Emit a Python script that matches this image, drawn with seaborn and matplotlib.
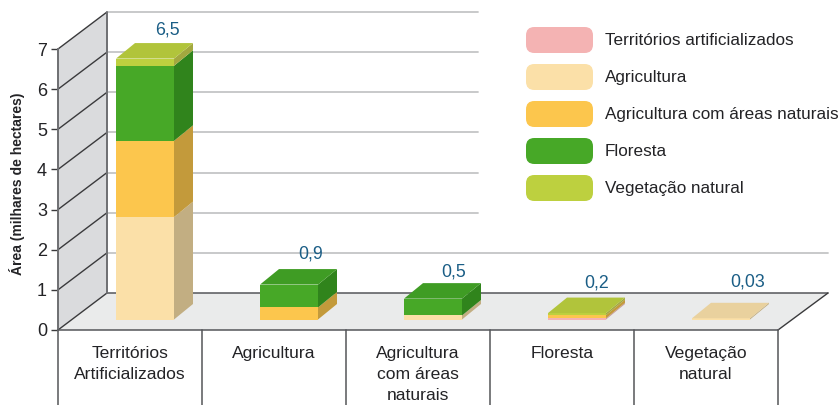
import matplotlib
matplotlib.use("Agg")
import matplotlib.pyplot as plt
from matplotlib.patches import FancyBboxPatch, Patch, Polygon
from matplotlib.legend_handler import HandlerPatch
from matplotlib.transforms import ScaledTranslation
import seaborn as sns
import pandas as pd
import numpy as np

categories = ["Territórios\nArtificializados", "Agricultura", "Agricultura\ncom áreas\nnaturais", "Floresta", "Vegetação\nnatural"]
series_names = ["Territórios artificializados", "Agricultura", "Agricultura com áreas naturais", "Floresta", "Vegetação natural"]
territorios = [0, 0, 0, 0.03, 0]
agricultura = [2.55, 0, 0.10, 0, 0.03]
agric_naturais = [1.90, 0.30, 0, 0.08, 0]
floresta_vals = [1.87, 0.57, 0.42, 0, 0]
vegetacao = [0.18, 0, 0, 0.05, 0]
total_labels = ["6,5", "0,9", "0,5", "0,2", "0,03"]
label_lift_px = [16, 18, 14, 17, 23]
label_shift_px = [13, 12, 11.5, 10, 17]

front = ["#F4B3B3", "#FBE0A8", "#FCC64D", "#47A827", "#BDD03F"]
side = ["#C79A9A", "#C2AE82", "#C39A3B", "#30841C", "#A3A83F"]
top = ["#E0A5A5", "#E9D19E", "#E8B548", "#3F9C24", "#B1C43B"]

sns.set_theme(style="white")
plt.rcParams['font.family'] = ['Liberation Sans', 'DejaVu Sans']

W, H = 840, 405
FS = 12.6
LFS = 12.35
fig = plt.figure(figsize=(W/100, H/100), dpi=100)
x0, x1, y0, y7 = 58, 778, 330, 49
ax = fig.add_axes([x0/W, 1-y0/H, (x1-x0)/W, (y0-y7)/H])
ax.patch.set_alpha(0)
ax.set_xlim(-0.5, 4.5)
ax.set_ylim(0, 7)

# pixel overlay for the chart's 3D frame
bg = fig.add_axes([0, 0, 1, 1], zorder=-1)
bg.set_xlim(0, W); bg.set_ylim(H, 0); bg.axis("off")
DX, DY = 49, 37
bg.add_patch(Polygon([(x0, y0), (x0+DX, y0-DY), (x0+DX, y7-DY), (x0, y7)], fc="#DADBDD", ec="none"))
bg.add_patch(Polygon([(x0, y0), (x0+DX, y0-DY), (x1+DX+1, y0-DY), (x1, y0)], fc="#EAEBEB", ec="none"))
unit = (y0-y7)/7
for k in range(8):
    y = y0 - k*unit
    bg.plot([x0, x0+DX], [y, y-DY], color="#3A3A3C", lw=1)
    if k:
        xend = x1+DX+1 if k == 1 else 478
        bg.plot([x0+DX, xend], [y-DY, y-DY], color="#C4C5C6", lw=1.3)
bg.plot([x0+DX, x1+DX+1], [y0-DY, y0-DY], color="#55565A", lw=1.1)
bg.plot([x1, x1+DX+1], [y0, y0-DY], color="#3A3A3C", lw=1)
bg.plot([x0+DX, x0+DX], [y7-DY, y0-DY], color="#6E6F72", lw=1.4)
for k in range(6):
    x = x0 + k*144
    bg.plot([x, x], [y0, H], color="#6E6F72", lw=1.3)

# bars: shifted into the depth of the floor
dep_tr = ScaledTranslation(15/100, 10.5/100, fig.dpi_scale_trans)
data_tr = ax.transData + dep_tr

layers = [territorios, agricultura, agric_naturais, floresta_vals, vegetacao]
df = pd.DataFrame(np.array(layers).T, columns=series_names)
df["cat"] = categories

bar_w = 58/144
depth_x = 19 * 5/(x1-x0)
depth_y = 15.5 * 7/(y0-y7)
bottom = np.zeros(5)
for name, f, s, t in zip(series_names, front, side, top):
    vals = df[name].to_numpy()
    n0 = len(ax.patches)
    sns.barplot(data=df, x="cat", y=name, order=categories, color=f, width=bar_w,
                saturation=1, bottom=bottom, ax=ax, errorbar=None, zorder=3)
    for i, p in enumerate(ax.patches[n0:]):
        p.set_transform(data_tr)
        p.set_clip_on(False)
        p.set_linewidth(0)
        if vals[i] == 0:
            continue
        xr = i + bar_w/2
        b, h = bottom[i], bottom[i] + vals[i]
        ax.add_patch(Polygon([(xr, b), (xr+depth_x, b+depth_y), (xr+depth_x, h+depth_y), (xr, h)],
                             fc=s, ec="none", transform=data_tr, clip_on=False, zorder=3))
    bottom = bottom + vals
    # top face only where this layer is the last of its bar
    remaining = np.array([sum(df[n][i] for n in series_names[series_names.index(name)+1:]) for i in range(5)])
    for i in range(5):
        if vals[i] > 0 and remaining[i] == 0:
            xl, xr = i - bar_w/2, i + bar_w/2
            h = bottom[i]
            ax.add_patch(Polygon([(xl, h), (xr, h), (xr+depth_x, h+depth_y), (xl+depth_x, h+depth_y)],
                                 fc=t, ec="none", transform=data_tr, clip_on=False, zorder=3))

for i, (lab, lift, shift) in enumerate(zip(total_labels, label_lift_px, label_shift_px)):
    ax.annotate(lab, xy=(i + depth_x/2, bottom[i] + depth_y), xycoords=data_tr,
                xytext=(shift*0.72, (lift-2.5)*0.72), textcoords="offset points", ha="center", va="center",
                color="#1B5E86", fontsize=12.8, annotation_clip=False)

# axes
ax.set_ylabel("")
ax.set_xlabel("")
ax.set_yticks(range(8))
ax.set_xticks(range(5))
ax.set_xticklabels(categories, linespacing=1.5, fontsize=FS, color="#232326")
ax.tick_params(axis="x", length=0, pad=11.5)
ax.tick_params(axis="y", length=5, width=1, color="#3A3A3C", labelsize=13, labelcolor="#232326", pad=3, left=True)
for sp in ["top", "right"]:
    ax.spines[sp].set_visible(False)
ax.spines["left"].set_color("#6E6F72"); ax.spines["left"].set_linewidth(1.4)
ax.spines["bottom"].set_color("#55565A"); ax.spines["bottom"].set_linewidth(1.1)
fig.text(17/W, 1-184/H, "Área (milhares de hectares)", rotation=90, ha="center", va="center",
         fontsize=10, fontweight="bold", color="#232326")

# legend with rounded swatches
class RoundHandler(HandlerPatch):
    def create_artists(self, legend, orig, xd, yd, w, h, fontsize, trans):
        p = FancyBboxPatch((-xd+3, -yd+3), w-6, h-6, boxstyle="round,pad=3,rounding_size=6",
                           fc=orig.get_facecolor(), ec="none", transform=trans)
        return [p]

handles = [Patch(facecolor=c) for c in front]
leg = fig.legend(handles, series_names, handler_map={Patch: RoundHandler()},
                 loc="upper left", bbox_to_anchor=(526/W, 1-27/H), borderaxespad=0, borderpad=0,
                 frameon=False, fontsize=LFS, handlelength=67*0.72/LFS,
                 handleheight=(26*0.72/LFS-0.245)/0.65,
                 handletextpad=12*0.72/LFS, labelspacing=11*0.72/LFS, labelcolor="#232326")

fig.savefig("out.png", dpi=100)
